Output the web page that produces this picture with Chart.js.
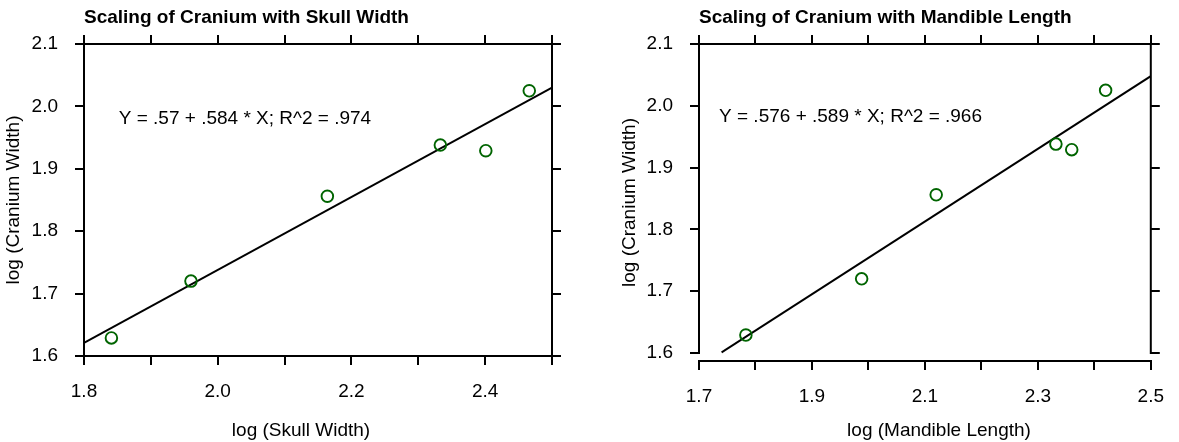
<!DOCTYPE html>
<html>
<head>
<meta charset="utf-8">
<script src="https://cdn.jsdelivr.net/npm/chart.js@4.4.1/dist/chart.umd.min.js"></script>
<style>
  html, body { margin: 0; padding: 0; background: #fff; }
  .panel { position: absolute; top: 0; height: 442px; }
  #p1 { left: 0; width: 590px; }
  #p2 { left: 590px; width: 589px; }
</style>
</head>
<body>
<div class="panel" id="p1"><canvas id="skullChart"></canvas></div>
<div class="panel" id="p2"><canvas id="mandibleChart"></canvas></div>
<script>
// log (Cranium Width), same for both panels
const craniumWidth = [1.629, 1.720, 1.856, 1.938, 1.929, 2.025];
// log (Skull Width)
const skullWidth = [1.841, 1.960, 2.164, 2.333, 2.401, 2.466];
// log (Mandible Length)
const mandibleLength = [1.783, 1.988, 2.120, 2.332, 2.360, 2.420];

// fitted lines, end points
const skullFitX = [1.8, 2.5];
const skullFitY = [1.621, 2.030];
const mandibleFitX = [1.74, 2.5];
const mandibleFitY = [1.601, 2.048];

const yTicks = [1.6, 1.7, 1.8, 1.9, 2.0, 2.1];
const skullTicks = [1.8, 1.9, 2.0, 2.1, 2.2, 2.3, 2.4, 2.5];
const mandibleTicks = [1.7, 1.8, 1.9, 2.0, 2.1, 2.2, 2.3, 2.4, 2.5];

const skullEq = 'Y = .57 + .584 * X; R^2 = .974';
const mandibleEq = 'Y = .576 + .589 * X; R^2 = .966';

const FONT = '"Liberation Sans", Arial, sans-serif';
Chart.defaults.font.family = FONT;
Chart.defaults.color = '#000';

function pairs(xs, ys) {
  return xs.map((x, i) => ({ x: x, y: ys[i] }));
}

const grid = { drawOnChartArea: false, color: '#000', lineWidth: 2, tickLength: 9 };
const border = { color: '#000', width: 2 };

// equation text, x axis title and the side frame lines
const extras = {
  id: 'extras',
  afterDraw(chart, args, opts) {
    const ctx = chart.ctx;
    const a = chart.chartArea;
    const ys = chart.scales.y;
    ctx.save();
    // left / right frame lines stop at the lowest y tick
    const yb = ys.getPixelForValue(yTicks[0]);
    ctx.strokeStyle = '#000';
    ctx.lineWidth = 2;
    ctx.beginPath();
    ctx.moveTo(a.left, a.top - 1);
    ctx.lineTo(a.left, yb + 1);
    ctx.moveTo(a.right, a.top - 1);
    ctx.lineTo(a.right, yb + 1);
    ctx.stroke();

    ctx.fillStyle = '#000';
    ctx.font = '19px ' + FONT;
    ctx.textBaseline = 'middle';
    ctx.textAlign = 'left';
    ctx.fillText(opts.text, chart.scales.x.getPixelForValue(opts.x), ys.getPixelForValue(opts.y));
    ctx.textAlign = 'center';
    ctx.fillText(opts.xTitle, opts.xTitleX, opts.xTitleY);
    ctx.restore();
  }
};

function makeChart(id, cfg) {
  const fixed = (w, h) => (scale) => {
    if (w != null) scale.width = w;
    if (h != null) scale.height = h;
  };
  return new Chart(document.getElementById(id), {
    type: 'scatter',
    data: {
      datasets: [
        {
          data: pairs(cfg.xs, craniumWidth),
          pointStyle: 'circle',
          pointRadius: 5.8,
          pointBorderWidth: 1.9,
          borderColor: '#006400',
          backgroundColor: 'rgba(0,0,0,0)'
        },
        {
          data: pairs(cfg.fitX, cfg.fitY),
          showLine: true,
          borderColor: '#000',
          borderWidth: 1.9,
          pointRadius: 0
        }
      ]
    },
    options: {
      responsive: true,
      maintainAspectRatio: false,
      animation: false,
      events: [],
      layout: { padding: 0 },
      plugins: {
        legend: { display: false },
        tooltip: { enabled: false },
        extras: {
          text: cfg.eq, x: cfg.eqX, y: cfg.eqY,
          xTitle: cfg.xTitle, xTitleX: cfg.xTitleX, xTitleY: 431
        }
      },
      scales: {
        x: {
          type: 'linear', position: 'bottom',
          min: cfg.xTicks[0], max: cfg.xTicks[cfg.xTicks.length - 1],
          afterBuildTicks: (s) => { s.ticks = cfg.xTicks.map(v => ({ value: v })); },
          afterFit: fixed(null, cfg.bottomH),
          grid: grid, border: border,
          ticks: {
            padding: 15, maxRotation: 0, autoSkip: false,
            font: { size: 19 },
            callback: (v, i) => (i % 2 === 0 ? v.toFixed(1) : '')
          }
        },
        x2: {
          type: 'linear', position: 'top',
          min: cfg.xTicks[0], max: cfg.xTicks[cfg.xTicks.length - 1],
          afterBuildTicks: (s) => { s.ticks = cfg.xTicks.map(v => ({ value: v })); },
          afterFit: fixed(null, 44),
          grid: grid, border: border,
          ticks: { display: false },
          title: { display: true, text: cfg.title, align: 'start', font: { size: 19, weight: 'bold' }, padding: { top: 6, bottom: 0 } }
        },
        y: {
          type: 'linear', position: 'left',
          min: cfg.yMin, max: 2.1,
          afterBuildTicks: (s) => { s.ticks = yTicks.map(v => ({ value: v })); },
          afterFit: fixed(cfg.leftW, null),
          grid: grid, border: { display: false },
          ticks: { padding: 17, font: { size: 19 }, callback: (v) => v.toFixed(1) },
          title: { display: true, text: 'log (Cranium Width)', font: { size: 19 }, padding: { top: cfg.yTitlePad, bottom: 0 } }
        },
        y2: {
          type: 'linear', position: 'right',
          min: cfg.yMin, max: 2.1,
          afterBuildTicks: (s) => { s.ticks = yTicks.map(v => ({ value: v })); },
          afterFit: fixed(cfg.rightW, null),
          grid: grid, border: { display: false },
          ticks: { display: false }
        }
      }
    },
    plugins: [extras]
  });
}

makeChart('skullChart', {
  xs: skullWidth, fitX: skullFitX, fitY: skullFitY, xTicks: skullTicks,
  title: 'Scaling of Cranium with Skull Width', xTitle: 'log (Skull Width)', xTitleX: 301,
  eq: skullEq, eqX: 1.852, eqY: 1.98,
  yMin: 1.6, leftW: 84, rightW: 38, bottomH: 86, yTitlePad: 2
});

makeChart('mandibleChart', {
  xs: mandibleLength, fitX: mandibleFitX, fitY: mandibleFitY, xTicks: mandibleTicks,
  title: 'Scaling of Cranium with Mandible Length', xTitle: 'log (Mandible Length)', xTitleX: 349,
  eq: mandibleEq, eqX: 1.7355, eqY: 1.982,
  yMin: 1.587, leftW: 109, rightW: 16, bottomH: 81, yTitlePad: 28
});
</script>
</body>
</html>
